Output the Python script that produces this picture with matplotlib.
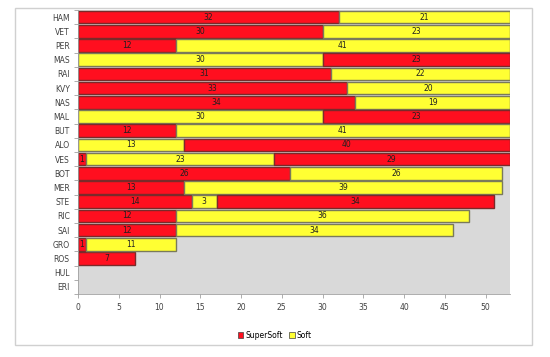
import matplotlib.pyplot as plt
from matplotlib.patches import Rectangle, Patch

drivers = ['HAM', 'VET', 'PER', 'MAS', 'RAI', 'KVY', 'NAS', 'MAL', 'BUT', 'ALO',
           'VES', 'BOT', 'MER', 'STE', 'RIC', 'SAI', 'GRO', 'ROS', 'HUL', 'ERI']

# laps per stint and tyre used (SS = SuperSoft, S = Soft)
stint1 = [32, 30, 12, 30, 31, 33, 34, 30, 12, 13, 1, 26, 13, 14, 12, 12, 1, 7, 0, 0]
tyre1 = ['SS', 'SS', 'SS', 'S', 'SS', 'SS', 'SS', 'S', 'SS', 'S',
         'SS', 'SS', 'SS', 'SS', 'SS', 'SS', 'SS', 'SS', 'SS', 'SS']
stint2 = [21, 23, 41, 23, 22, 20, 19, 23, 41, 40, 23, 26, 39, 3, 36, 34, 11, 0, 0, 0]
tyre2 = ['S', 'S', 'S', 'SS', 'S', 'S', 'S', 'SS', 'S', 'SS',
         'S', 'S', 'S', 'S', 'S', 'S', 'S', 'S', 'S', 'S']
stint3 = [0, 0, 0, 0, 0, 0, 0, 0, 0, 0, 29, 0, 0, 34, 0, 0, 0, 0, 0, 0]
tyre3 = ['SS'] * 20

colors = {'SS': '#FF0F1F', 'S': '#FFFF33'}
edges = {'SS': '#7A2A2A', 'S': '#7A7A5A'}

fig = plt.figure(figsize=(5.5, 3.57), dpi=100)
fig.patches.append(Rectangle((15 / 550, 1 - 345 / 357), 517 / 550, 337 / 357,
                             transform=fig.transFigure, fill=False,
                             edgecolor='#D0D0D0', lw=1))
ax = fig.add_axes([78 / 550, 1 - 294 / 357, 432 / 550, 284 / 357])
ax.set_facecolor('#D9D9D9')

y = list(range(len(drivers)))
left = [0] * len(drivers)
for laps, tyres in [(stint1, tyre1), (stint2, tyre2), (stint3, tyre3)]:
    for i in y:
        if laps[i] == 0:
            continue
        t = tyres[i]
        ax.barh(i, laps[i], left=left[i], height=0.88, color=colors[t],
                edgecolor=edges[t], lw=1)
        ax.text(left[i] + laps[i] / 2, i, str(laps[i]), ha='center', va='center',
                fontsize=5.5, color='#202020')
        left[i] += laps[i]

ax.set_xlim(0, 53)
ax.set_ylim(len(drivers) - 0.5, -0.5)
ax.set_yticks(y)
ax.set_yticklabels(drivers, fontsize=5.5, color='#404040')
ax.set_yticks([k - 0.5 for k in range(len(drivers) + 1)], minor=True)
ax.set_xticks(range(0, 51, 5))
ax.tick_params(axis='x', labelsize=5.5, labelcolor='#404040', length=3, color='#A0A0A0', width=0.6)
ax.tick_params(axis='y', which='major', length=0, pad=6)
ax.tick_params(axis='y', which='minor', length=3, color='#A0A0A0', width=0.6)
for s in ['top', 'right']:
    ax.spines[s].set_visible(False)
for s in ['left', 'bottom']:
    ax.spines[s].set_color('#A0A0A0')
    ax.spines[s].set_linewidth(0.6)

handles = [Patch(facecolor=colors['SS'], edgecolor='#404040', lw=0.5, label='SuperSoft'),
           Patch(facecolor=colors['S'], edgecolor='#404040', lw=0.5, label='Soft')]
fig.legend(handles=handles, loc='center', bbox_to_anchor=(275 / 550, 1 - 335 / 357),
           ncol=2, frameon=False, fontsize=5.5, handlelength=0.7, handleheight=0.7,
           handletextpad=0.3, columnspacing=0.8)

fig.savefig('out.png', dpi=100)
